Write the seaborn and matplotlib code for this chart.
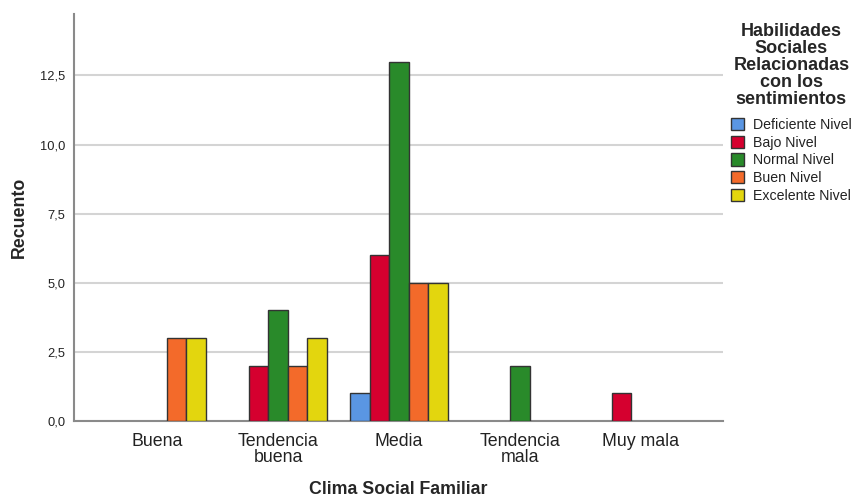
import matplotlib
matplotlib.use("Agg")
import matplotlib.pyplot as plt
import seaborn as sns
import pandas as pd
from matplotlib.ticker import FuncFormatter
from matplotlib.patches import Patch

categories = ["Buena", "Tendencia\nbuena", "Media", "Tendencia\nmala", "Muy mala"]
series = ["Deficiente Nivel", "Bajo Nivel", "Normal Nivel", "Buen Nivel", "Excelente Nivel"]
deficiente = [0, 0, 1, 0, 0]
bajo = [0, 2, 6, 0, 1]
normal = [0, 4, 13, 2, 0]
buen = [3, 2, 5, 0, 0]
excelente = [3, 3, 5, 0, 0]
colors = ["#5a96e3", "#d5002f", "#298a2a", "#f36a2a", "#e3d60e"]
yticks = [0, 2.5, 5, 7.5, 10, 12.5]

rows = []
for s, vals in zip(series, [deficiente, bajo, normal, buen, excelente]):
    for c, v in zip(categories, vals):
        rows.append({"cat": c, "serie": s, "val": v})
df = pd.DataFrame(rows)

sns.set_style("white")
plt.rcParams["font.family"] = ["Liberation Sans", "DejaVu Sans"]

fig = plt.figure(figsize=(8.54, 4.97), dpi=100)
ax = fig.add_axes([74/854, 1-421/497, (723-74)/854, (421-14)/497])

sns.barplot(data=df, x="cat", y="val", hue="serie", order=categories,
            hue_order=series, palette=colors, saturation=1, width=0.81, gap=0,
            edgecolor="#333333", linewidth=1, ax=ax, legend=False, zorder=3)

for p in ax.patches:
    if p.get_height() == 0:
        p.set_visible(False)

ax.set_xlim(-0.686, 4.678)
ax.set_ylim(0, 14.72)
ax.set_yticks(yticks)
ax.yaxis.set_major_formatter(FuncFormatter(lambda v, pos: f"{v:.1f}".replace(".", ",")))
ax.grid(axis="y", color="#d4d4d4", linewidth=1.5, zorder=0)
ax.set_axisbelow(True)
for side in ["top", "right"]:
    ax.spines[side].set_visible(False)
for side in ["left", "bottom"]:
    ax.spines[side].set_color("#8a8a8a")
    ax.spines[side].set_linewidth(1.5)
ax.tick_params(axis="both", length=0)
ax.tick_params(axis="y", labelsize=9.3, colors="#222222", pad=6)
ax.tick_params(axis="x", labelsize=12.8, colors="#222222", pad=9)
for t in ax.get_xticklabels():
    t.set_linespacing(0.85)

ax.set_xlabel("Clima Social Familiar", fontsize=12.8, fontweight="bold")
ax.set_ylabel("Recuento", fontsize=12.8, fontweight="bold")
ax.xaxis.set_label_coords(0.5, -0.147)
ax.yaxis.set_label_coords(-0.071, 0.5)

handles = [Patch(facecolor=c, edgecolor="#333333", linewidth=1) for c in colors]
leg = fig.legend(handles, series, loc="upper left", bbox_to_anchor=(731/854, 1-23/497),
                 frameon=False, fontsize=10.2, handlelength=0.95, handleheight=0.95,
                 handletextpad=0.6, labelspacing=0.27, borderpad=0, borderaxespad=0,
                 title="Habilidades\nSociales\nRelacionadas\ncon los\nsentimientos",
                 title_fontproperties={"weight": "bold", "size": 13})
leg.get_title().set_multialignment("center")
leg.get_title().set_linespacing(1.0)
leg._legend_box.sep = 7
for t in leg.get_texts():
    t.set_color("#222222")

fig.savefig("out.png", dpi=100)
